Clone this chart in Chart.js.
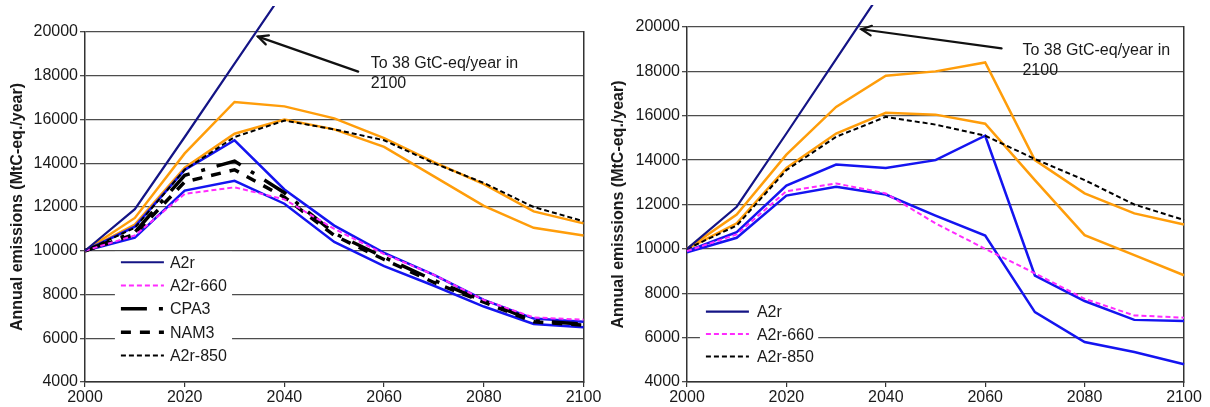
<!DOCTYPE html>
<html><head><meta charset="utf-8">
<script src="https://cdn.jsdelivr.net/npm/chart.js@4.4.1/dist/chart.umd.min.js"></script>
<style>
html,body{margin:0;padding:0;background:#fff;width:1210px;height:407px;overflow:hidden}
.box{position:absolute;top:0;height:407px}
#b1{left:0;width:610px}
#b2{left:600px;width:610px}
</style></head><body>
<div class="box" id="b1"><canvas id="c1"></canvas></div>
<div class="box" id="b2"><canvas id="c2"></canvas></div>
<script>
// ---------- data ----------
const years = [2000, 2010, 2020, 2030, 2040, 2050, 2060, 2070, 2080, 2090, 2100];
const yTicks = [4000, 6000, 8000, 10000, 12000, 14000, 16000, 18000, 20000];
const xTicks = [2000, 2020, 2040, 2060, 2080, 2100];
const yTitle = 'Annual emissions (MtC-eq./year)';
const noteLines = ['To 38 GtC-eq/year in', '2100'];

// left panel
const L_A2r     = [10000, 11900, 15200, 18550, 21900];
const L_A2r660  = [10000, 10700, 12600, 12900, 12350, 11000, 9850, 8900, 7750, 6950, 6850];
const L_CPA3    = [10000, 10850, 13450, 14100, 12650, 10800, 9700, 8650, 7700, 6800, 6650];
const L_NAM3    = [10000, 10750, 13150, 13700, 12450, 10700, 9600, 8550, 7650, 6750, 6600];
const L_A2r850  = [10000, 11050, 13700, 15200, 15950, 15550, 15050, 14000, 13100, 12000, 11350];
const L_blueA   = [10000, 11100, 13700, 15050, 12800, 11150, 9900, 8900, 7750, 6900, 6750];
const L_blueB   = [10000, 10600, 12750, 13200, 12150, 10400, 9300, 8400, 7450, 6650, 6500];
const L_orange1 = [10000, 11500, 14450, 16800, 16600, 16050, 15150, 14050, 13050, 11800, 11250];
const L_orange2 = [10000, 11200, 13800, 15350, 16000, 15550, 14750, 13400, 12050, 11050, 10700];

// right panel
const R_A2r     = [10000, 11900, 15200, 18550, 21900];
const R_A2r660  = [9900, 10650, 12600, 12950, 12500, 11150, 10000, 8900, 7750, 7000, 6900];
const R_A2r850  = [10000, 11050, 13550, 15050, 15950, 15600, 15100, 14050, 13100, 12000, 11300];
const R_blueA   = [9900, 10750, 12850, 13800, 13650, 14000, 15100, 8800, 7650, 6800, 6750];
const R_blueB   = [9850, 10500, 12400, 12800, 12450, 11500, 10600, 7150, 5800, 5350, 4800];
const R_orange1 = [10000, 11550, 14250, 16400, 17800, 18000, 18400, 14000, 12500, 11600, 11100];
const R_orange2 = [10000, 11150, 13650, 15200, 16130, 16050, 15640, 13100, 10620, 9720, 8810];

// annotation anchors (data coordinates)
const L_arrow = {tip: [2034.7, 19790], tail: [2054.8, 18190], text: [2057.3, 18340]};
const R_arrow = {tip: [2035.1, 19900], tail: [2063.3, 19040], text: [2067.5, 18740]};
// legend boxes (data coordinates: x from/to, y top/bottom)
const L_legendBox = {x0: 2006, x1: 2029.5, top: 10000, bottom: 4640};
const R_legendBox = {x0: 2002.6, x1: 2026.4, top: 7700, bottom: 4630};

// ---------- styles ----------
const FONT = '"Liberation Sans", Arial, Helvetica, sans-serif';
const NAVY = '#141485', BLUE = '#1414f0', ORANGE = '#ff9d0a', MAGENTA = '#ff2bff', BLACK = '#000';
const pts = a => a.map((v, i) => ({x: years[i], y: v}));

function ds(label, arr, color, width, dash, legend, clipTop) {
  return {
    label, data: pts(arr), borderColor: color, backgroundColor: color,
    borderWidth: width, borderDash: dash || [], pointRadius: 0, tension: 0,
    fill: false, inLegend: legend,
    clip: {left: 2, top: clipTop || 2, right: 2, bottom: 2}
  };
}

const annotPlugin = {
  id: 'annot',
  afterDatasetsDraw(chart, args, o) {
    const {ctx, scales: {x, y}} = chart;
    ctx.save();
    // legend box
    const lb = o.legendBox;
    const bx0 = x.getPixelForValue(lb.x0), bx1 = x.getPixelForValue(lb.x1);
    const by0 = y.getPixelForValue(lb.top), by1 = y.getPixelForValue(lb.bottom);
    ctx.fillStyle = '#fff';
    ctx.fillRect(bx0, by0 + 1, bx1 - bx0, by1 - by0);
    const items = chart.data.datasets.filter(d => d.inLegend);
    ctx.font = '16px ' + FONT;
    ctx.textBaseline = 'middle';
    items.forEach((d, i) => {
      const cy = by0 + o.rowStart + i * o.rowGap;
      ctx.beginPath();
      ctx.setLineDash(d.borderDash);
      ctx.strokeStyle = d.borderColor;
      ctx.lineWidth = d.borderWidth;
      ctx.moveTo(bx0 + 6, cy);
      ctx.lineTo(bx0 + 6 + o.sampleLen, cy);
      ctx.stroke();
      ctx.setLineDash([]);
      ctx.fillStyle = '#1a1a1a';
      ctx.fillText(d.label, bx0 + o.textOff, cy + 1);
    });
    // arrow
    const a = o.arrow;
    const tx = x.getPixelForValue(a.tail[0]), ty = y.getPixelForValue(a.tail[1]);
    const hx = x.getPixelForValue(a.tip[0]), hy = y.getPixelForValue(a.tip[1]);
    ctx.strokeStyle = '#111'; ctx.lineWidth = 2.2; ctx.lineCap = 'round';
    ctx.beginPath(); ctx.moveTo(tx, ty); ctx.lineTo(hx, hy); ctx.stroke();
    const ang = Math.atan2(ty - hy, tx - hx), L = 11, sp = 0.45;
    ctx.beginPath();
    ctx.moveTo(hx + L * Math.cos(ang + sp), hy + L * Math.sin(ang + sp));
    ctx.lineTo(hx, hy);
    ctx.lineTo(hx + L * Math.cos(ang - sp), hy + L * Math.sin(ang - sp));
    ctx.stroke();
    // note text
    ctx.fillStyle = '#1a1a1a';
    ctx.textBaseline = 'alphabetic';
    ctx.font = '16px ' + FONT;
    const px = x.getPixelForValue(a.text[0]), py = y.getPixelForValue(a.text[1]);
    noteLines.forEach((t, i) => ctx.fillText(t, px, py + i * 20));
    ctx.restore();
  }
};

function makeChart(id, datasets, opts) {
  return new Chart(document.getElementById(id), {
    type: 'line',
    data: {datasets},
    plugins: [annotPlugin],
    options: {
      responsive: true, maintainAspectRatio: false, animation: false,
      layout: {padding: {top: opts.top, right: opts.right, left: 0, bottom: 0}},
      plugins: {
        legend: {display: false}, tooltip: {enabled: false},
        annot: {legendBox: opts.legendBox, arrow: opts.arrow, rowStart: opts.rowStart,
                rowGap: opts.rowGap, sampleLen: 43, textOff: opts.textOff}
      },
      scales: {
        x: {
          type: 'linear', min: 2000, max: 2100,
          afterBuildTicks: s => { s.ticks = xTicks.map(v => ({value: v})); },
          grid: {drawOnChartArea: false, drawTicks: true, tickLength: 5, color: '#333', lineWidth: 1.2},
          border: {display: true, color: '#333', width: 1.5},
          ticks: {font: {family: FONT, size: 16}, color: '#1a1a1a', padding: 1, maxRotation: 0,
                  autoSkip: false, callback: v => String(v)},
          afterFit: s => { s.height = 25; }
        },
        y: {
          type: 'linear', min: 4000, max: 20000,
          afterBuildTicks: s => { s.ticks = yTicks.map(v => ({value: v})); },
          grid: {color: '#4d4d4d', lineWidth: 1.3, tickLength: 5, drawTicks: true},
          border: {display: true, color: '#333', width: 1.5},
          ticks: {font: {family: FONT, size: 16}, color: '#1a1a1a', padding: 2, autoSkip: false,
                  callback: v => String(v)},
          title: {display: true, text: yTitle, color: '#1a1a1a',
                  font: {family: FONT, size: 16, weight: 'bold'}, padding: {top: opts.titlePad, bottom: 0}},
          afterFit: s => { s.width = opts.yWidth; }
        },
        y2: {
          type: 'linear', position: 'right', min: 4000, max: 20000, display: true,
          ticks: {display: false}, grid: {display: false, drawTicks: false},
          border: {display: true, color: '#333', width: 1.5},
          afterFit: s => { s.width = 0; }
        }
      }
    }
  });
}

makeChart('c1', [
  ds('A2r', L_A2r, NAVY, 2.2, [], true, 26),
  ds('A2r-660', L_A2r660, MAGENTA, 2, [5, 3], true),
  ds('CPA3', L_CPA3, BLACK, 3.5, [26, 12, 4, 12], true),
  ds('NAM3', L_NAM3, BLACK, 3.5, [10, 9], true),
  ds('A2r-850', L_A2r850, BLACK, 2, [5, 3], true),
  ds('', L_blueA, BLUE, 2.5, [], false),
  ds('', L_blueB, BLUE, 2.5, [], false),
  ds('', L_orange1, ORANGE, 2.5, [], false),
  ds('', L_orange2, ORANGE, 2.5, [], false)
], {top: 32, right: 26.5, yWidth: 85, titlePad: 8, legendBox: L_legendBox, arrow: L_arrow,
    rowStart: 11.5, rowGap: 23.3, textOff: 55});

makeChart('c2', [
  ds('A2r', R_A2r, NAVY, 2.2, [], true, 22),
  ds('A2r-660', R_A2r660, MAGENTA, 2, [5, 3], true),
  ds('A2r-850', R_A2r850, BLACK, 2, [5, 3], true),
  ds('', R_blueA, BLUE, 2.5, [], false),
  ds('', R_blueB, BLUE, 2.5, [], false),
  ds('', R_orange1, ORANGE, 2.5, [], false),
  ds('', R_orange2, ORANGE, 2.5, [], false)
], {top: 27, right: 26, yWidth: 87, titlePad: 9, legendBox: R_legendBox, arrow: R_arrow,
    rowStart: 11.7, rowGap: 22.5, textOff: 57});
</script>
</body></html>
